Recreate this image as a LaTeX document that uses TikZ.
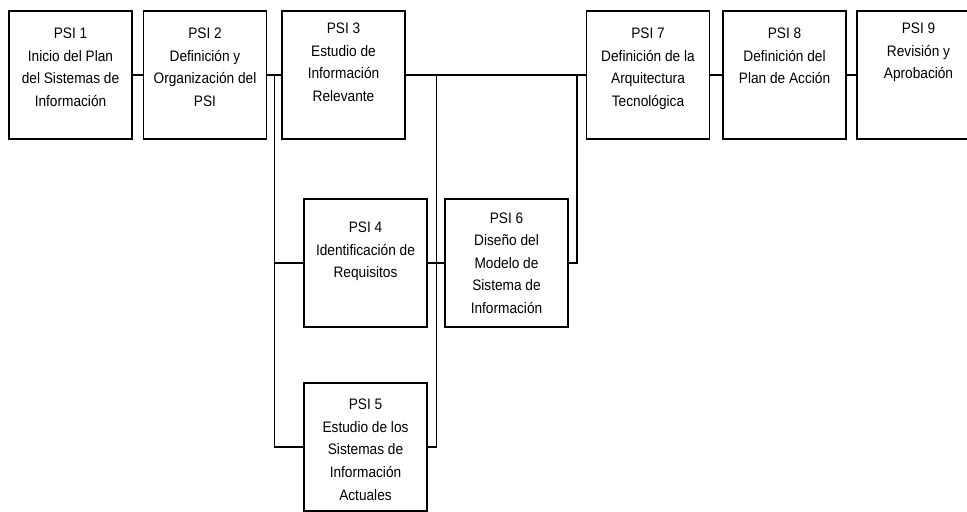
\documentclass[tikz,border=0pt]{standalone}
\usepackage{fontspec}
\setmainfont{Liberation Sans}
\usetikzlibrary{calc,positioning}
\def\psifont{\fontsize{11.4}{16.9}\selectfont}

\begin{document}
\begin{tikzpicture}[x=0.75pt, y=-0.75pt,
		psibox/.style={draw, line width=1pt, minimum width=92.25pt, minimum height=96pt, inner sep=0},
		psitxt/.style={align=center, inner sep=0, font=\psifont, xscale=0.9, transform shape},
		link/.style={line width=1pt}]
			%%%%% START %%%%%
			\useasboundingbox (0, 0) rectangle (967, 511);
			\clip (0, 0) rectangle (967, 511);
			
			\node[psibox] (p1) at (70.5, 75) {};
			\node[psitxt, below=13pt of p1.north] {PSI 1\\Inicio del Plan\\del Sistemas de\\Información};
			
			\node[psibox] (p2) at (205, 75) {};
			\node[psitxt, below=13pt of p2.north] {PSI 2\\Definición y\\Organización del\\PSI};
			
			\node[psibox] (p3) at (343.5, 75) {};
			\node[psitxt, below=9.5pt of p3.north] {PSI 3\\Estudio de\\Información\\Relevante};
			
			\node[psibox] (p4) at (365.5, 263) {};
			\node[psitxt, below=17.5pt of p4.north] {PSI 4\\Identificación de\\Requisitos};
			
			\node[psibox] (p5) at (365.5, 447) {};
			\node[psitxt, below=12.5pt of p5.north] {PSI 5\\Estudio de los\\Sistemas de\\Información\\Actuales};
			
			\node[psibox] (p6) at (506.5, 263) {};
			\node[psitxt, below=10.5pt of p6.north] {PSI 6\\Diseño del\\Modelo de\\Sistema de\\Información};
			
			\node[psibox] (p7) at (648, 75) {};
			\node[psitxt, below=13pt of p7.north] {PSI 7\\Definición de la\\Arquitectura\\Tecnológica};
			
			\node[psibox] (p8) at (784.5, 75) {};
			\node[psitxt, below=13pt of p8.north] {PSI 8\\Definición del\\Plan de Acción};
			
			\node[psibox] (p9) at (918.5, 75) {};
			\node[psitxt, below=9.5pt of p9.north] {PSI 9\\Revisión y\\Aprobación};
			
			% junctions on the top line
			\coordinate (ja) at ($(p2.east)!0.5!(p3.west)$);
			\coordinate (jb) at ($(p3.east)+(31, 0)$);
			\coordinate (jc) at ($(p7.west)+(-9, 0)$);
			
			\draw[link] (p1.east) -- (p2.west);
			\draw[link] (p2.east) -- (p3.west);
			\draw[link] (ja) |- (p4.west);
			\draw[link] (ja) |- (p5.west);
			\draw[link] (p3.east) -- (p7.west);
			\draw[link] (jb) |- (p5.east);
			\draw[link] (p4.east) -- (p6.west);
			\draw[link] (p6.east) -| (jc);
			\draw[link] (p7.east) -- (p8.west);
			\draw[link] (p8.east) -- (p9.west);
			%%%%% END %%%%%
\end{tikzpicture}
\end{document}
